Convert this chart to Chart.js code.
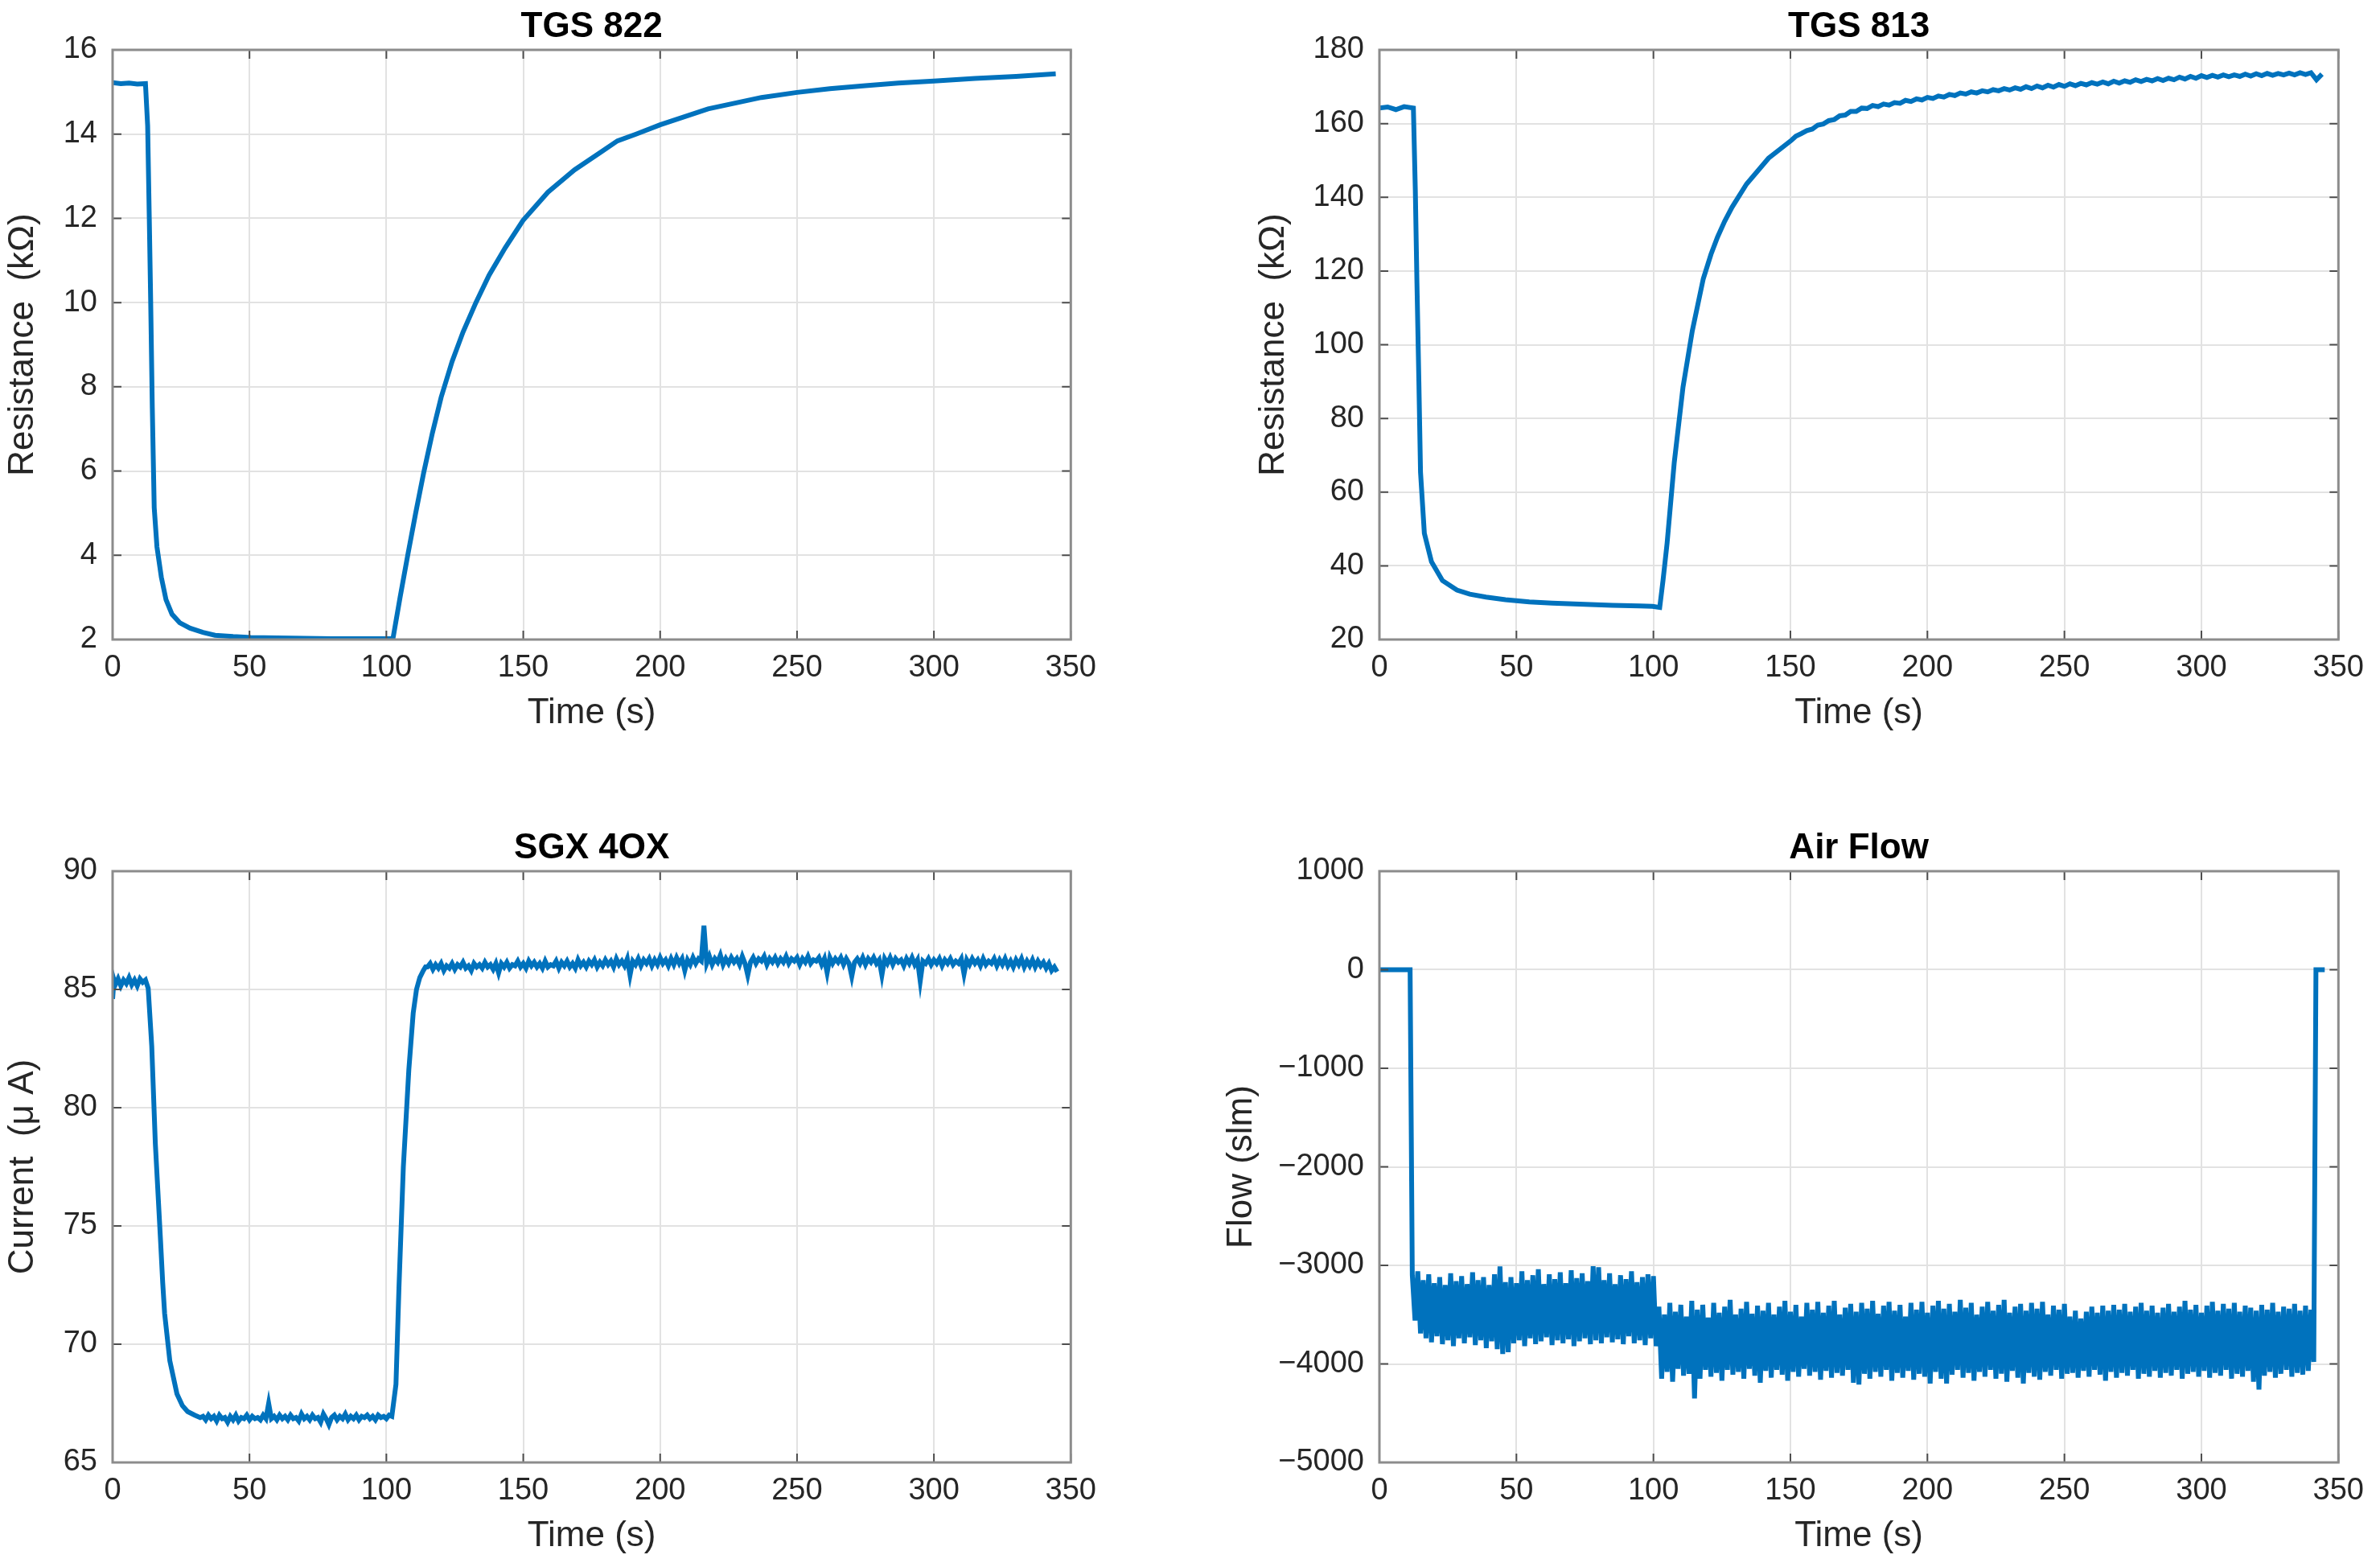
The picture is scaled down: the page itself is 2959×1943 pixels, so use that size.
<!DOCTYPE html>
<html lang="en">
<head>
<meta charset="UTF-8">
<title>Sensor responses</title>
<script src="https://cdn.jsdelivr.net/npm/chart.js"></script>
<style>
  html, body { margin: 0; padding: 0; background: #fff; }
  body { width: 2959px; height: 1943px; position: relative; overflow: hidden; }
  .box { position: absolute; }
</style>
</head>
<body>

<div class="box" id="b1"><canvas id="c1"></canvas></div>
<div class="box" id="b2"><canvas id="c2"></canvas></div>
<div class="box" id="b3"><canvas id="c3"></canvas></div>
<div class="box" id="b4"><canvas id="c4"></canvas></div>

<script>
// ---- data ----
const timeTicks = [0, 50, 100, 150, 200, 250, 300, 350];
const tgs822Ticks = [2, 4, 6, 8, 10, 12, 14, 16];
const tgs813Ticks = [20, 40, 60, 80, 100, 120, 140, 160, 180];
const sgxTicks = [65, 70, 75, 80, 85, 90];
const flowTicks = [-5000, -4000, -3000, -2000, -1000, 0, 1000];

// TGS 822 resistance (kOhm)
const tgs822T = [0, 3, 6, 9, 12, 12.8, 13.4, 13.9, 14.5, 15.2, 16.2, 17.8, 19.5, 21.7, 24.5, 28.3, 33, 37.4, 44, 50.5,
  60, 70, 80, 90, 98, 102.4, 105, 107.8, 110.7, 113.6, 116.8, 120, 124, 128, 132.7, 137.5, 143.4, 149.9, 159, 168.7,
  178.5, 184.4, 191.2, 200, 217.5, 237, 250, 262, 275, 287, 300, 315, 330, 344.5];
const tgs822V = [15.22, 15.2, 15.21, 15.19, 15.2, 14.2, 12.0, 10.06, 7.5, 5.13, 4.2, 3.48, 2.95, 2.6, 2.4, 2.27, 2.17, 2.1, 2.07, 2.05,
  2.04, 2.03, 2.02, 2.02, 2.02, 2.02, 3.0, 4.0, 5.0, 5.95, 6.9, 7.75, 8.6, 9.3, 10.0, 10.65, 11.3, 11.95, 12.62, 13.15,
  13.58, 13.84, 14.0, 14.22, 14.6, 14.87, 14.99, 15.08, 15.15, 15.21, 15.26, 15.32, 15.37, 15.43];

// TGS 813 resistance (kOhm): smooth part, then the slightly noisy tail
const tgs813T1 = [0, 3, 6, 9, 12.4, 13.1, 13.7, 14.4, 15, 16.4, 19, 23, 28.3, 33, 38.9, 46, 54.7, 63, 73, 85,
  95, 99.7, 102.3, 103.5, 105, 107.6, 110.8, 114.2, 118.2, 121, 123.4, 126, 128.7, 134, 142, 150.4];
const tgs813V1 = [164.2, 164.5, 163.8, 164.6, 164.2, 142, 116.6, 90, 65.4, 48.8, 41.1, 36, 33.4, 32.3, 31.5, 30.8, 30.2, 29.9, 29.6, 29.3,
  29.1, 29.0, 28.7, 36, 46.2, 68, 88.5, 103.8, 117.9, 124.5, 129.2, 133.5, 137.3, 143.6, 150.6, 155.5];
const tgs813T2 = [152, 154, 156, 158, 160, 162, 164, 166, 168, 170,
  172, 174, 176, 178, 180, 182, 184, 186, 188, 190,
  192, 194, 196, 198, 200, 202, 204, 206, 208, 210,
  212, 214, 216, 218, 220, 222, 224, 226, 228, 230,
  232, 234, 236, 238, 240, 242, 244, 246, 248, 250,
  252, 254, 256, 258, 260, 262, 264, 266, 268, 270,
  272, 274, 276, 278, 280, 282, 284, 286, 288, 290,
  292, 294, 296, 298, 300, 302, 304, 306, 308, 310,
  312, 314, 316, 318, 320, 322, 324, 326, 328, 330,
  332, 334, 336, 338, 340, 342, 344];
const tgs813V2 = [156.6, 157.3, 158.1, 158.5, 159.6, 159.9, 160.8, 161.1, 162.1, 162.3,
  163.3, 163.3, 164.2, 164.1, 164.9, 164.6, 165.3, 165.0, 165.7, 165.5,
  166.3, 166.0, 166.7, 166.4, 167.1, 166.8, 167.5, 167.2, 167.9, 167.6,
  168.3, 168.0, 168.6, 168.3, 168.9, 168.6, 169.2, 168.9, 169.5, 169.1,
  169.7, 169.3, 170.0, 169.5, 170.2, 169.7, 170.4, 169.9, 170.6, 170.1,
  170.8, 170.3, 170.9, 170.5, 171.1, 170.7, 171.3, 170.8, 171.5, 171.0,
  171.6, 171.2, 171.9, 171.4, 172.0, 171.6, 172.2, 171.7, 172.3, 171.9,
  172.6, 172.1, 172.8, 172.3, 173.0, 172.5, 173.1, 172.6, 173.2, 172.7,
  173.2, 172.8, 173.4, 172.9, 173.5, 173.0, 173.6, 173.1, 173.6, 173.2,
  173.7, 173.2, 173.8, 173.3, 173.8, 171.9, 173.4];

// SGX 4OX current (uA), in pieces
const sgxT1 = [0, 0.5, 1, 2, 3, 4, 5, 6, 7, 8, 9, 10, 11, 12];
const sgxV1 = [84.6, 85.4, 85.2, 85.45, 85.15, 85.4, 85.25, 85.5, 85.2, 85.4, 85.15, 85.45, 85.3, 85.4];
const sgxT2 = [13, 14.3, 15.6, 17.5, 18.3, 19, 20.9, 23.5, 25.5, 27.4, 30, 32];
const sgxV2 = [85.05, 82.6, 78.5, 74.4, 72.6, 71.3, 69.3, 67.9, 67.4, 67.15, 67.0, 66.9];
const sgxT3 = [33, 34, 35, 36, 37, 38, 39, 40, 41, 42,
  43, 44, 45, 46, 47, 48, 49, 50, 51, 52,
  53, 54, 55, 56, 57, 58, 59, 60, 61, 62,
  63, 64, 65, 66, 67, 68, 69, 70, 71, 72,
  73, 74, 75, 76, 77, 78, 79, 80, 81, 82,
  83, 84, 85, 86, 87, 88, 89, 90, 91, 92,
  93, 94, 95, 96, 97, 98, 99, 100, 101, 102];
const sgxV3 = [66.95, 66.8, 67.0, 66.85, 66.95, 66.75, 67.0, 66.85, 66.9, 66.7,
  66.95, 66.8, 67.0, 66.75, 66.9, 66.85, 67.0, 66.8, 66.95, 66.85,
  66.9, 66.8, 67.0, 66.85, 67.5, 66.85, 66.95, 66.8, 67.0, 66.85,
  66.95, 66.8, 67.0, 66.85, 66.9, 66.75, 67.05, 66.85, 66.95, 66.8,
  67.0, 66.85, 66.9, 66.7, 67.05, 66.85, 66.6, 66.9, 67.0, 66.8,
  66.95, 66.85, 67.05, 66.8, 66.95, 66.85, 67.0, 66.8, 66.95, 66.9,
  67.0, 66.85, 66.95, 66.8, 67.0, 66.9, 66.95, 66.85, 67.0, 66.95];
const sgxT4 = [103.5, 104.6, 106.2, 108.2, 109.8, 111, 112.2, 113.5, 114.3];
const sgxV4 = [68.3, 72.4, 77.5, 81.6, 84.0, 85.0, 85.5, 85.8, 85.95];
const sgxT5 = [115, 116, 117, 118, 119, 120, 121, 122, 123, 124,
  125, 126, 127, 128, 129, 130, 131, 132, 133, 134,
  135, 136, 137, 138, 139, 140, 141, 142, 143, 144,
  145, 146, 147, 148, 149, 150, 151, 152, 153, 154,
  155, 156, 157, 158, 159, 160, 161, 162, 163, 164,
  165, 166, 167, 168, 169, 170, 171, 172, 173, 174,
  175, 176, 177, 178, 179, 180, 181, 182, 183, 184,
  185, 186, 187, 188, 189, 190, 191, 192, 193, 194,
  195, 196, 197, 198, 199, 200, 201, 202, 203, 204,
  205, 206, 207, 208, 209, 210, 211, 212, 213, 214,
  215, 216, 217, 218, 219, 220, 221, 222, 223, 224,
  225, 226, 227, 228, 229, 230, 231, 232, 233, 234,
  235, 236, 237, 238, 239, 240, 241, 242, 243, 244,
  245, 246, 247, 248, 249, 250, 251, 252, 253, 254,
  255, 256, 257, 258, 259, 260, 261, 262, 263, 264,
  265, 266, 267, 268, 269, 270, 271, 272, 273, 274,
  275, 276, 277, 278, 279, 280, 281, 282, 283, 284,
  285, 286, 287, 288, 289, 290, 291, 292, 293, 294,
  295, 296, 297, 298, 299, 300, 301, 302, 303, 304,
  305, 306, 307, 308, 309, 310, 311, 312, 313, 314,
  315, 316, 317, 318, 319, 320, 321, 322, 323, 324,
  325, 326, 327, 328, 329, 330, 331, 332, 333, 334,
  335, 336, 337, 338, 339, 340, 341, 342, 343, 344, 345];
const sgxV5 = [85.95, 86.1, 85.85, 86.05, 85.9, 86.1, 85.8, 86.0, 85.9, 86.1,
  85.85, 86.05, 85.95, 86.15, 85.9, 86.0, 85.8, 86.1, 85.95, 86.05,
  85.9, 86.15, 85.95, 86.05, 85.85, 86.1, 85.7, 86.1, 85.95, 86.15,
  85.9, 86.05, 86.0, 86.2, 85.95, 86.1, 85.9, 86.2, 86.0, 86.15,
  85.95, 86.1, 85.9, 86.2, 85.95, 86.05, 86.0, 86.2, 85.9, 86.15,
  86.0, 86.2, 85.95, 86.1, 85.9, 86.25, 86.0, 86.15, 85.95, 86.2,
  86.05, 86.25, 85.95, 86.15, 86.0, 86.25, 86.05, 86.2, 85.95, 86.3,
  86.05, 86.2, 86.0, 86.3, 85.6, 86.2, 86.05, 86.3, 86.0, 86.25,
  86.1, 86.3, 86.0, 86.25, 86.05, 86.35, 86.1, 86.25, 86.0, 86.3,
  86.05, 86.35, 86.1, 86.3, 85.8, 86.25, 86.05, 86.35, 86.1, 86.3,
  86.2, 87.7, 86.1, 86.4, 86.05, 86.3, 86.15, 86.45, 86.05, 86.3,
  86.1, 86.35, 86.15, 86.3, 86.05, 86.4, 86.1, 85.6, 86.15, 86.35,
  86.1, 86.3, 86.2, 86.4, 86.05, 86.3, 86.15, 86.35, 86.1, 86.3,
  86.15, 86.4, 86.1, 86.3, 86.2, 86.35, 86.05, 86.3, 86.15, 86.4,
  86.1, 86.25, 86.2, 86.35, 86.05, 86.3, 85.7, 86.35, 86.1, 86.3,
  86.15, 86.35, 86.05, 86.3, 86.1, 85.55, 86.15, 86.3, 86.1, 86.35,
  86.05, 86.3, 86.15, 86.35, 86.1, 86.25, 85.6, 86.3, 86.1, 86.35,
  86.05, 86.3, 86.15, 86.25, 86.0, 86.3, 86.1, 86.35, 86.05, 86.25,
  85.35, 86.2, 86.1, 86.3, 86.05, 86.25, 86.1, 86.3, 86.0, 86.25,
  86.1, 86.3, 86.05, 86.2, 86.1, 86.3, 85.65, 86.25, 86.05, 86.3,
  86.1, 86.25, 86.0, 86.3, 86.05, 86.2, 86.1, 86.3, 86.0, 86.25,
  86.05, 86.3, 86.0, 86.2, 85.95, 86.25, 86.05, 86.3, 85.95, 86.2,
  86.0, 86.25, 85.95, 86.2, 86.0, 86.15, 85.9, 86.1, 85.8, 85.95, 85.75];

// Air flow (slm), in pieces
const flowT1 = [0, 4, 8, 11.2];
const flowV1 = [0, 0, 0, 0];
const flowT2 = [12, 13, 14, 15, 16, 17, 18, 19, 20, 21,
  22, 23, 24, 25, 26, 27, 28, 29, 30, 31,
  32, 33, 34, 35, 36, 37, 38, 39, 40, 41,
  42, 43, 44, 45, 46, 47, 48, 49, 50, 51,
  52, 53, 54, 55, 56, 57, 58, 59, 60, 61,
  62, 63, 64, 65, 66, 67, 68, 69, 70, 71,
  72, 73, 74, 75, 76, 77, 78, 79, 80, 81,
  82, 83, 84, 85, 86, 87, 88, 89, 90, 91,
  92, 93, 94, 95, 96, 97, 98, 99, 100, 101];
const flowV2 = [-3100, -3560, -3060, -3690, -3150, -3740, -3090, -3780, -3180, -3720,
  -3120, -3800, -3200, -3760, -3080, -3820, -3160, -3740, -3110, -3790,
  -3190, -3730, -3070, -3810, -3150, -3760, -3120, -3840, -3200, -3770,
  -3090, -3850, -3010, -3900, -3170, -3880, -3120, -3790, -3180, -3760,
  -3060, -3820, -3150, -3740, -3100, -3800, -3040, -3770, -3190, -3730,
  -3090, -3810, -3140, -3760, -3070, -3790, -3180, -3750, -3050, -3820,
  -3130, -3770, -3080, -3740, -3160, -3800, -3010, -3760, -3020, -3790,
  -3150, -3730, -3080, -3780, -3190, -3750, -3100, -3800, -3140, -3720,
  -3060, -3790, -3170, -3760, -3120, -3810, -3090, -3740, -3110, -3820];
const flowT3 = [102, 103, 104, 105, 106, 107, 108, 109, 110, 111,
  112, 113, 114, 115, 116, 117, 118, 119, 120, 121,
  122, 123, 124, 125, 126, 127, 128, 129, 130, 131,
  132, 133, 134, 135, 136, 137, 138, 139, 140, 141,
  142, 143, 144, 145, 146, 147, 148, 149, 150, 151,
  152, 153, 154, 155, 156, 157, 158, 159, 160, 161,
  162, 163, 164, 165, 166, 167, 168, 169, 170, 171,
  172, 173, 174, 175, 176, 177, 178, 179, 180, 181,
  182, 183, 184, 185, 186, 187, 188, 189, 190, 191,
  192, 193, 194, 195, 196, 197, 198, 199, 200, 201,
  202, 203, 204, 205, 206, 207, 208, 209, 210, 211,
  212, 213, 214, 215, 216, 217, 218, 219, 220, 221,
  222, 223, 224, 225, 226, 227, 228, 229, 230, 231,
  232, 233, 234, 235, 236, 237, 238, 239, 240, 241,
  242, 243, 244, 245, 246, 247, 248, 249, 250, 251,
  252, 253, 254, 255, 256, 257, 258, 259, 260, 261,
  262, 263, 264, 265, 266, 267, 268, 269, 270, 271,
  272, 273, 274, 275, 276, 277, 278, 279, 280, 281,
  282, 283, 284, 285, 286, 287, 288, 289, 290, 291,
  292, 293, 294, 295, 296, 297, 298, 299, 300, 301,
  302, 303, 304, 305, 306, 307, 308, 309, 310, 311,
  312, 313, 314, 315, 316, 317, 318, 319, 320, 321,
  322, 323, 324, 325, 326, 327, 328, 329, 330, 331,
  332, 333, 334, 335, 336, 337, 338, 339, 340, 341];
const flowV3 = [-3420, -4150, -3500, -4080, -3380, -4180, -3470, -4050, -3400, -4120,
  -3520, -4100, -3360, -4350, -3450, -4150, -3400, -4060, -3530, -4130,
  -3380, -4090, -3480, -4170, -3420, -4060, -3350, -4110, -3500, -4080,
  -3440, -4150, -3370, -4050, -3490, -4120, -3410, -4190, -3460, -4070,
  -3380, -4140, -3500, -4060, -3420, -4110, -3360, -4170, -3470, -4080,
  -3400, -4130, -3520, -4050, -3380, -4120, -3450, -4080, -3370, -4160,
  -3480, -4070, -3410, -4140, -3360, -4090, -3500, -4120, -3430, -4060,
  -3390, -4190, -3470, -4210, -3380, -4100, -3440, -4150, -3360, -4080,
  -3490, -4130, -3410, -4060, -3370, -4170, -3460, -4090, -3400, -4140,
  -3520, -4070, -3380, -4160, -3450, -4100, -3370, -4130, -3480, -4200,
  -3410, -4080, -3360, -4150, -3440, -4200, -3390, -4110, -3470, -4060,
  -3350, -4140, -3430, -4090, -3380, -4170, -3500, -4080, -3420, -4130,
  -3370, -4060, -3460, -4150, -3400, -4100, -3350, -4180, -3480, -4070,
  -3420, -4140, -3390, -4200, -3460, -4090, -3380, -4130, -3440, -4160,
  -3370, -4080, -3500, -4120, -3410, -4060, -3450, -4150, -3390, -4100,
  -3520, -4090, -3460, -4140, -3540, -4070, -3470, -4130, -3420, -4060,
  -3480, -4110, -3410, -4170, -3460, -4080, -3400, -4140, -3450, -4090,
  -3390, -4120, -3470, -4060, -3420, -4150, -3380, -4100, -3460, -4130,
  -3410, -4070, -3480, -4140, -3430, -4090, -3390, -4120, -3470, -4060,
  -3420, -4150, -3360, -4100, -3450, -4080, -3400, -4130, -3480, -4070,
  -3410, -4140, -3370, -4090, -3460, -4120, -3390, -4060, -3440, -4150,
  -3380, -4100, -3470, -4130, -3410, -4070, -3430, -4180, -3460, -4260,
  -3400, -4120, -3450, -4080, -3380, -4140, -3470, -4100, -3420, -4060,
  -3440, -4130, -3390, -4090, -3460, -4110, -3410, -4070, -3450, -3980];
const flowT4 = [341.8, 343, 345];
const flowV4 = [0, 0, 0];

// ---- drawing ----
const BLUE = '#0072BD';
const FONT = "'Liberation Sans', Arial, Helvetica, sans-serif";
const INK = '#262626';

function pts(t, v) {
  const out = [];
  for (let i = 0; i < Math.min(t.length, v.length); i++) out.push({x: t[i], y: v[i]});
  return out;
}

function fmt(v) {
  return v < 0 ? '\u2212' + Math.abs(v) : String(v);
}

// MATLAB-like box, inward tick marks and bold title
const frame = {
  id: 'frame',
  afterDraw(chart, args, opts) {
    const ctx = chart.ctx, a = chart.chartArea;
    const xs = chart.scales.x, ys = chart.scales.y;
    ctx.save();
    ctx.strokeStyle = '#4d4d4d';
    ctx.lineWidth = 2;
    ctx.beginPath();
    ys.ticks.forEach(tk => {
      const y = ys.getPixelForValue(tk.value);
      ctx.moveTo(a.left, y); ctx.lineTo(a.left + 11, y);
      ctx.moveTo(a.right, y); ctx.lineTo(a.right - 11, y);
    });
    xs.ticks.forEach(tk => {
      const x = xs.getPixelForValue(tk.value);
      ctx.moveTo(x, a.bottom); ctx.lineTo(x, a.bottom - 11);
      ctx.moveTo(x, a.top); ctx.lineTo(x, a.top + 11);
    });
    ctx.stroke();
    ctx.strokeStyle = '#8c8c8c';
    ctx.lineWidth = 3;
    ctx.strokeRect(a.left, a.top, a.right - a.left, a.bottom - a.top);
    ctx.fillStyle = '#000';
    ctx.font = 'bold 44px ' + FONT;
    ctx.textAlign = 'center';
    ctx.textBaseline = 'alphabetic';
    ctx.fillText(opts.text, (a.left + a.right) / 2, a.top - 16);
    ctx.restore();
  }
};

function makeChart(n, g, title, yLabel, yTicks, series) {
  const box = document.getElementById('b' + n);
  box.style.left = g.left + 'px';
  box.style.top = g.top + 'px';
  box.style.width = (g.aR + 40 - g.left) + 'px';
  box.style.height = (g.aB + 118 - g.top) + 'px';

  const tickFont = {family: FONT, size: 38};
  const grid = {color: '#e2e2e2', lineWidth: 2, drawTicks: false};

  return new Chart(document.getElementById('c' + n), {
    type: 'line',
    data: {
      datasets: [{
        data: series,
        borderColor: BLUE,
        borderWidth: 6,
        pointRadius: 0,
        tension: 0,
        fill: false
      }]
    },
    options: {
      responsive: true,
      maintainAspectRatio: false,
      animation: false,
      devicePixelRatio: 1,
      layout: {padding: {top: g.aT - g.top, right: 40, left: 0, bottom: 0}},
      plugins: {legend: {display: false}, tooltip: {enabled: false}, frame: {text: title}},
      scales: {
        x: {
          type: 'linear', min: 0, max: 350,
          afterBuildTicks: s => { s.ticks = timeTicks.map(v => ({value: v})); },
          afterFit: s => { s.height = 118; },
          grid: grid, border: {display: false},
          ticks: {padding: 13, color: INK, font: tickFont, maxRotation: 0, autoSkip: false, callback: v => fmt(v)},
          title: {display: true, text: 'Time (s)', color: INK, font: {family: FONT, size: 44}, padding: {top: 0, bottom: 0}}
        },
        y: {
          type: 'linear', min: yTicks[0], max: yTicks[yTicks.length - 1],
          afterBuildTicks: s => { s.ticks = yTicks.map(v => ({value: v})); },
          afterFit: s => { s.width = g.aL - g.left; },
          grid: grid, border: {display: false},
          ticks: {padding: 19, color: INK, font: tickFont, autoSkip: false, callback: v => fmt(v)},
          title: {display: true, text: yLabel, color: INK, font: {family: FONT, size: 44},
                  padding: {top: g.yLab - g.left - 26.4, bottom: 0}}
        }
      }
    },
    plugins: [frame]
  });
}

makeChart(1, {left: 0, top: 0, aL: 140, aT: 62, aR: 1336, aB: 795, yLab: 29},
  'TGS 822', 'Resistance  (k\u03A9)', tgs822Ticks, pts(tgs822T, tgs822V));

makeChart(2, {left: 1540, top: 0, aL: 1715, aT: 62, aR: 2912, aB: 795, yLab: 1584},
  'TGS 813', 'Resistance  (k\u03A9)', tgs813Ticks, pts(tgs813T1, tgs813V1).concat(pts(tgs813T2, tgs813V2)));

makeChart(3, {left: 0, top: 960, aL: 140, aT: 1083, aR: 1336, aB: 1818, yLab: 29},
  'SGX 4OX', 'Current  (\u03BC A)', sgxTicks,
  pts(sgxT1, sgxV1).concat(pts(sgxT2, sgxV2), pts(sgxT3, sgxV3), pts(sgxT4, sgxV4), pts(sgxT5, sgxV5)));

makeChart(4, {left: 1500, top: 960, aL: 1715, aT: 1083, aR: 2912, aB: 1818, yLab: 1544},
  'Air Flow', 'Flow (slm)', flowTicks,
  pts(flowT1, flowV1).concat(pts(flowT2, flowV2), pts(flowT3, flowV3), pts(flowT4, flowV4)));
</script>
</body>
</html>
